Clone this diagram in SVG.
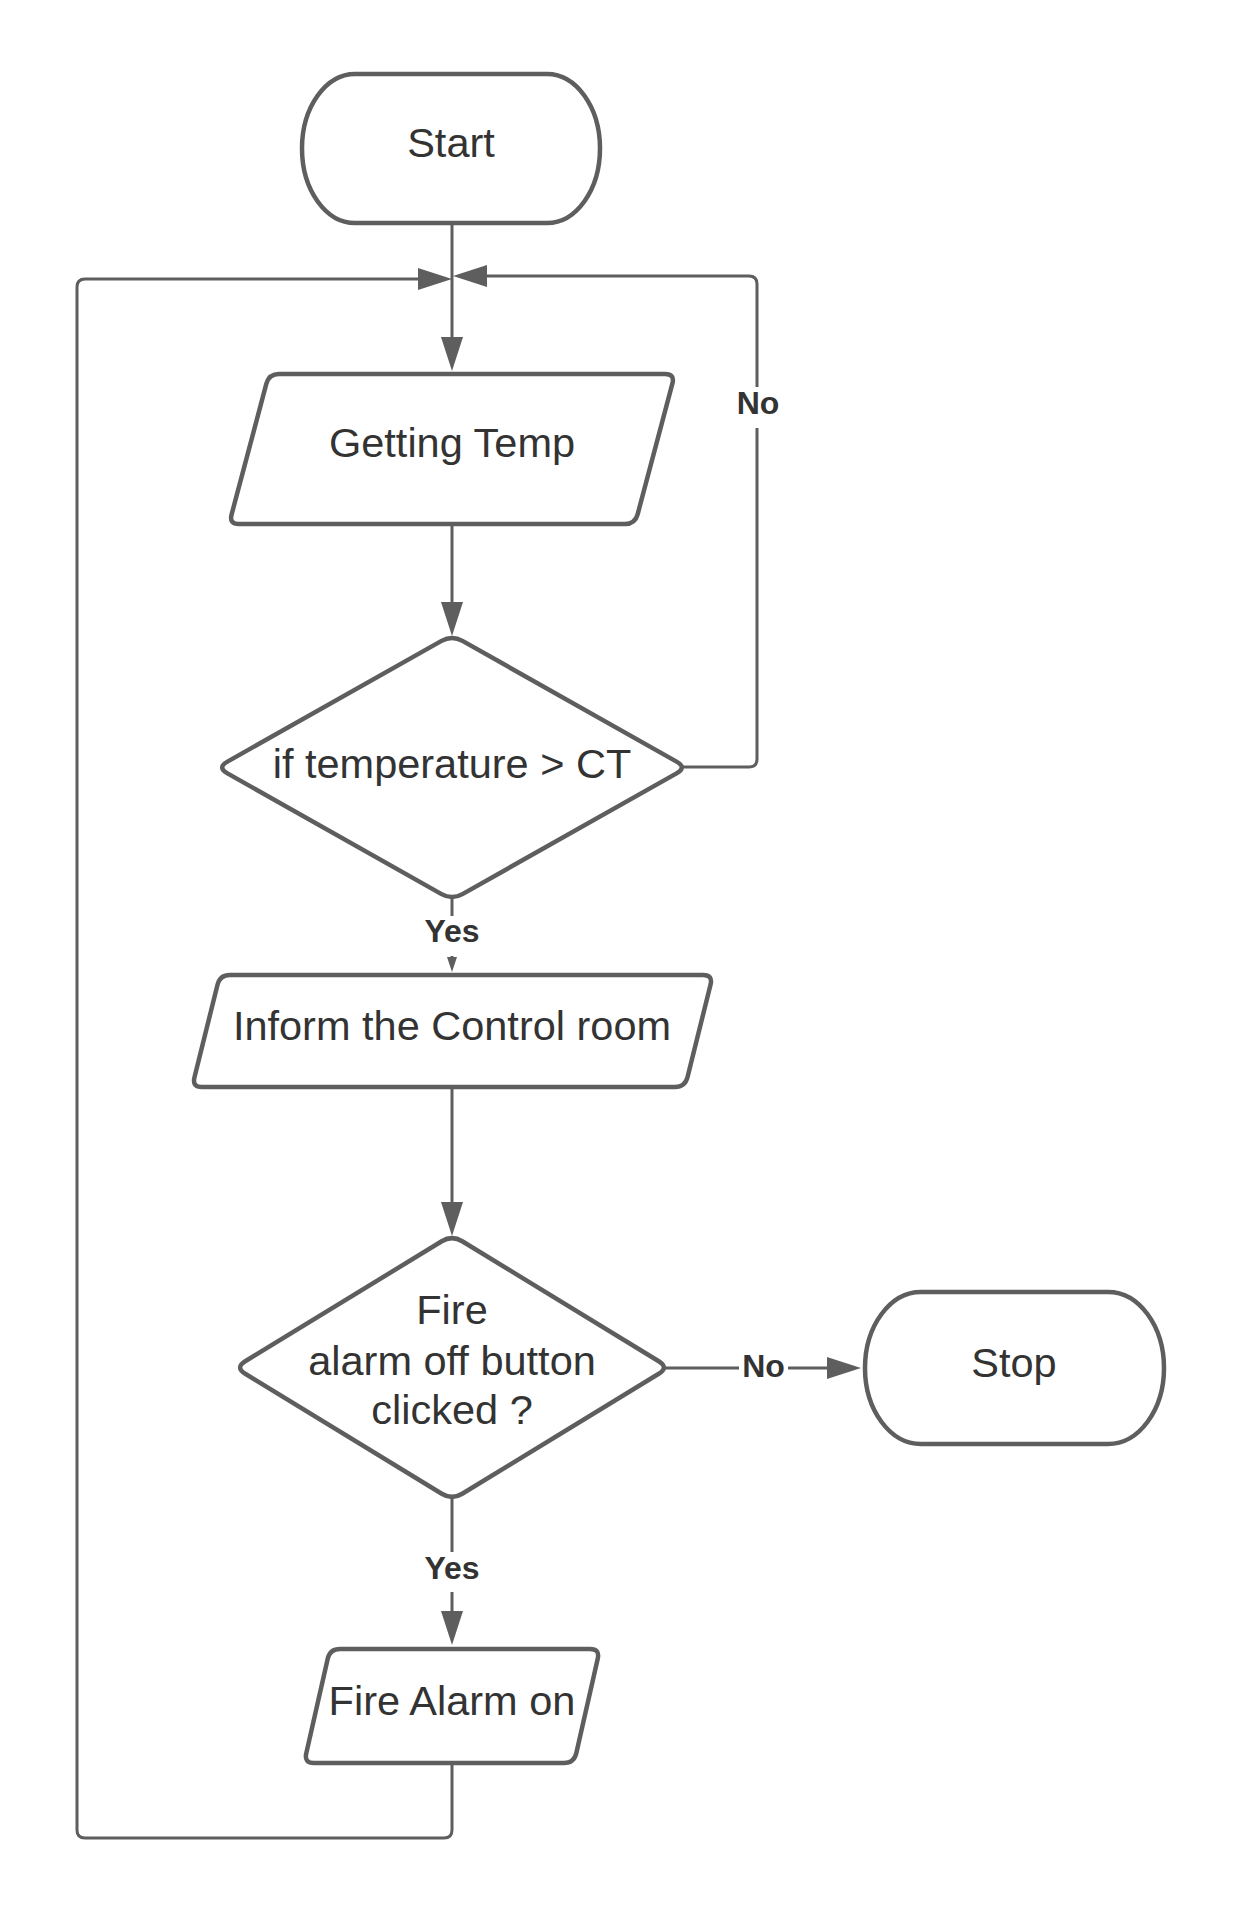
<svg xmlns="http://www.w3.org/2000/svg" width="1239" height="1918" viewBox="0 0 1239 1918">
<style>
.shape{fill:#ffffff;stroke:#5e5e5e;stroke-width:4.5;stroke-linejoin:round}
.conn{fill:none;stroke:#5e5e5e;stroke-width:3}
.txt{font-family:"Liberation Sans",Arial,sans-serif;font-size:41.5px;fill:#333333;text-anchor:middle}
.lbl{font-family:"Liberation Sans",Arial,sans-serif;font-size:32px;font-weight:bold;fill:#333333;text-anchor:middle}
.lblbg{fill:#ffffff;stroke:none}
</style>
<defs>
<marker id="arr" viewBox="0 0 34 22" markerWidth="34" markerHeight="22" refX="1" refY="11" orient="auto" markerUnits="userSpaceOnUse">
<path d="M0,0 L34,11 L0,22 Z" fill="#5e5e5e"/>
</marker>
<marker id="arrs" viewBox="0 0 15 10" markerWidth="15" markerHeight="10" refX="1" refY="5" orient="auto" markerUnits="userSpaceOnUse">
<path d="M0,0 L15,5 L0,10 Z" fill="#5e5e5e"/>
</marker>
</defs>
<rect width="1239" height="1918" fill="#ffffff"/>

<g id="connectors">
<path class="conn" d="M452,224 L452,338" marker-end="url(#arr)"/>
<path class="conn" d="M452,524 L452,603" marker-end="url(#arr)"/>
<path class="conn" d="M682,767 L749,767 Q757,767 757,759 L757,284 Q757,276 749,276 L486,276" marker-end="url(#arr)"/>
<path class="conn" d="M452,897 L452,958" marker-end="url(#arrs)"/>
<path class="conn" d="M452,1087 L452,1203" marker-end="url(#arr)"/>
<path class="conn" d="M664,1368 L828,1368" marker-end="url(#arr)"/>
<path class="conn" d="M452,1497 L452,1612" marker-end="url(#arr)"/>
<path class="conn" d="M452,1763 L452,1830 Q452,1838 444,1838 L85,1838 Q77,1838 77,1830 L77,287 Q77,279 85,279 L419,279" marker-end="url(#arr)"/>
<g id="label-no-1">
<rect class="lblbg" x="733" y="387" width="50" height="41"/>
<text class="lbl" x="758" y="414">No</text>
</g>
<g id="label-yes-1">
<rect class="lblbg" x="421" y="916" width="62" height="40"/>
<text class="lbl" x="452" y="942">Yes</text>
</g>
<g id="label-no-2">
<rect class="lblbg" x="739" y="1350" width="49" height="36"/>
<text class="lbl" x="763.5" y="1377">No</text>
</g>
<g id="label-yes-2">
<rect class="lblbg" x="421" y="1552" width="62" height="40"/>
<text class="lbl" x="452" y="1579">Yes</text>
</g>
</g>

<g id="start">
<rect class="shape" x="302" y="74" width="298" height="149" rx="53" ry="74.5"/>
<text class="txt" x="451" y="157">Start</text>
</g>

<g id="getting-temp">
<path class="shape" d="M279,374 L665,374 Q675,374 672.37,383.65 L637.63,514.35 Q635,524 625,524 L239,524 Q229,524 231.63,514.35 L266.37,383.65 Q269,374 279,374 Z"/>
<text class="txt" x="452" y="457">Getting Temp</text>
</g>

<g id="decision-temp">
<path class="shape" d="M441.55,640.89 Q452,635 462.45,640.89 L676.55,761.61 Q687,767.5 676.55,773.39 L462.45,894.11 Q452,900 441.55,894.11 L227.45,773.39 Q217,767.5 227.45,761.61 Z"/>
<text class="txt" x="452" y="778">if temperature &gt; CT</text>
</g>

<g id="inform">
<path class="shape" d="M230,975 L703,975 Q713,975 710.51,984.69 L687.49,1077.31 Q685,1087 675,1087 L202,1087 Q192,1087 194.49,1077.31 L217.51,984.69 Q220,975 230,975 Z"/>
<text class="txt" x="452" y="1040">Inform the Control room</text>
</g>

<g id="decision-button">
<path class="shape" d="M441.76,1241.26 Q452,1235 462.24,1241.26 L658.76,1361.24 Q669,1367.5 658.76,1373.76 L462.24,1493.74 Q452,1500 441.76,1493.74 L245.24,1373.76 Q235,1367.5 245.24,1361.24 Z"/>
<text class="txt" x="452" y="1324">Fire</text>
<text class="txt" x="452" y="1375">alarm off button</text>
<text class="txt" x="452" y="1424">clicked ?</text>
</g>

<g id="stop">
<rect class="shape" x="865" y="1292" width="299" height="152" rx="56" ry="76"/>
<text class="txt" x="1014" y="1377">Stop</text>
</g>

<g id="fire-alarm-on">
<path class="shape" d="M340,1649 L590,1649 Q600,1649 597.72,1658.74 L576.28,1753.26 Q574,1763 564,1763 L314,1763 Q304,1763 306.28,1753.26 L327.72,1658.74 Q330,1649 340,1649 Z"/>
<text class="txt" x="452" y="1715">Fire Alarm on</text>
</g>
</svg>
